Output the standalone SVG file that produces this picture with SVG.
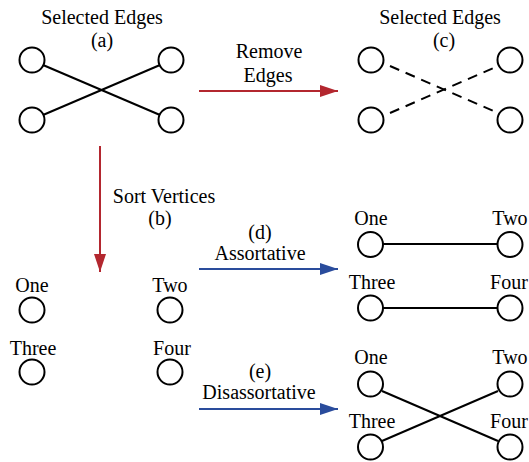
<svg xmlns="http://www.w3.org/2000/svg" width="529" height="462" viewBox="0 0 529 462" font-family="'Liberation Serif', 'DejaVu Serif', serif">
<style>
text{font-family:'Liberation Serif','DejaVu Serif',serif;font-size:20px;fill:#000;text-anchor:middle}
.n{fill:#fff;stroke:#000;stroke-width:2}
.e{stroke:#000;stroke-width:2;fill:none}
.d{stroke:#000;stroke-width:2;fill:none;stroke-dasharray:10,7}
.r{stroke:#b3272f;stroke-width:2;fill:none}
.b{stroke:#2a4c9c;stroke-width:2;fill:none}
</style>
<defs>
<marker id="ar" viewBox="0 0 18 12" refX="18" refY="6" markerWidth="18" markerHeight="12" markerUnits="userSpaceOnUse" orient="auto"><path d="M0,0L18,6L0,12z" fill="#b3272f"/></marker>
<marker id="ab" viewBox="0 0 18 12" refX="18" refY="6" markerWidth="18" markerHeight="12" markerUnits="userSpaceOnUse" orient="auto"><path d="M0,0L18,6L0,12z" fill="#2a4c9c"/></marker>
</defs>
<g id="connectors">
<line class="e" x1="43" y1="65" x2="160" y2="115"/>
<line class="e" x1="43" y1="115" x2="160" y2="65"/>
<line class="d" x1="390" y1="66" x2="498" y2="113"/>
<line class="d" x1="390" y1="113" x2="498" y2="66"/>
<line class="e" x1="383" y1="244" x2="497" y2="244"/>
<line class="e" x1="383" y1="308" x2="497" y2="308"/>
<line class="e" x1="382" y1="391" x2="498" y2="441"/>
<line class="e" x1="382" y1="441" x2="498" y2="391"/>
<line class="r" x1="199" y1="91" x2="338" y2="91" marker-end="url(#ar)"/>
<line class="r" x1="100" y1="146" x2="100" y2="272" marker-end="url(#ar)"/>
<line class="b" x1="199" y1="269" x2="338" y2="269" marker-end="url(#ab)"/>
<line class="b" x1="199" y1="409" x2="338" y2="409" marker-end="url(#ab)"/>
</g>
<g id="label-a"><text x="102" y="24">Selected Edges</text><text x="102" y="47">(a)</text></g>
<g id="a1"><circle class="n" cx="32" cy="60" r="12.5"/></g>
<g id="a2"><circle class="n" cx="171" cy="60" r="12.5"/></g>
<g id="a3"><circle class="n" cx="32" cy="120" r="12.5"/></g>
<g id="a4"><circle class="n" cx="171" cy="120" r="12.5"/></g>
<g id="label-remove"><text x="269" y="58">Remove</text><text x="268" y="82">Edges</text></g>
<g id="label-c"><text x="440" y="24">Selected Edges</text><text x="444" y="47">(c)</text></g>
<g id="c1"><circle class="n" cx="371" cy="60" r="12.5"/></g>
<g id="c2"><circle class="n" cx="510" cy="60" r="12.5"/></g>
<g id="c3"><circle class="n" cx="371" cy="120" r="12.5"/></g>
<g id="c4"><circle class="n" cx="510" cy="120" r="12.5"/></g>
<g id="label-b"><text x="164" y="203">Sort Vertices</text><text x="160" y="225">(b)</text></g>
<g id="b1"><text x="32" y="292">One</text><circle class="n" cx="32" cy="310" r="12.5"/></g>
<g id="b2"><text x="170" y="292">Two</text><circle class="n" cx="170" cy="310" r="12.5"/></g>
<g id="b3"><text x="33" y="355">Three</text><circle class="n" cx="32" cy="372" r="12.5"/></g>
<g id="b4"><text x="172" y="355">Four</text><circle class="n" cx="170" cy="372" r="12.5"/></g>
<g id="label-d"><text x="260" y="239">(d)</text><text x="260" y="260">Assortative</text></g>
<g id="d1"><text x="371" y="225">One</text><circle class="n" cx="370.5" cy="244.5" r="12.5"/></g>
<g id="d2"><text x="510" y="225">Two</text><circle class="n" cx="510" cy="244.5" r="12.5"/></g>
<g id="d3"><text x="372" y="289">Three</text><circle class="n" cx="370.5" cy="308" r="12.5"/></g>
<g id="d4"><text x="509" y="289">Four</text><circle class="n" cx="510" cy="308" r="12.5"/></g>
<g id="label-e"><text x="260" y="378">(e)</text><text x="259" y="399">Disassortative</text></g>
<g id="e1"><text x="371" y="364">One</text><circle class="n" cx="370.5" cy="384" r="12.5"/></g>
<g id="e2"><text x="510" y="364">Two</text><circle class="n" cx="510" cy="384" r="12.5"/></g>
<g id="e3"><text x="372" y="428">Three</text><circle class="n" cx="370.5" cy="447" r="12.5"/></g>
<g id="e4"><text x="509" y="428">Four</text><circle class="n" cx="510" cy="447" r="12.5"/></g>
</svg>
